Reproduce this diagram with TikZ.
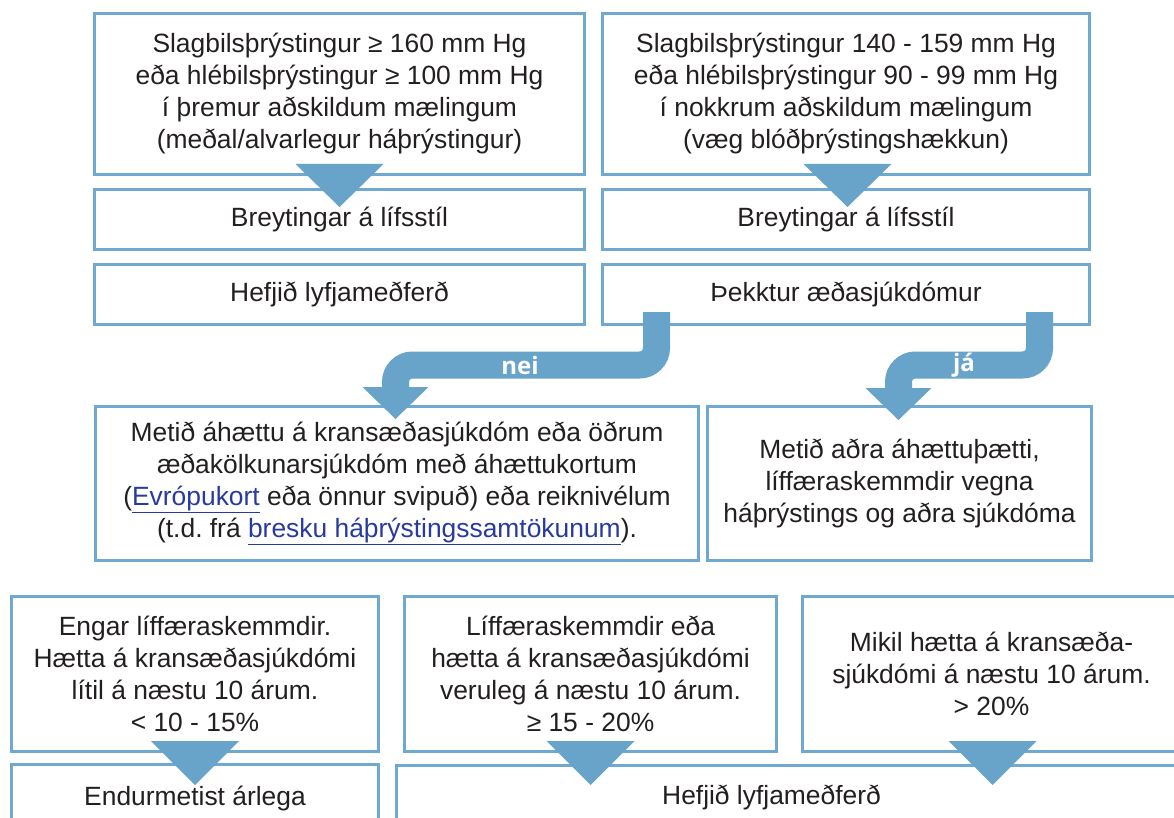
\documentclass[tikz,border=0pt]{standalone}
\usepackage{fontspec}
\setmainfont{Liberation Sans}
\newfontfamily\lblfont{Open Sans}
\usetikzlibrary{calc}
\definecolor{bordercol}{RGB}{111,168,208}
\definecolor{arrowcol}{RGB}{104,164,201}
\definecolor{txtcol}{RGB}{35,31,32}
\definecolor{linkcol}{RGB}{40,58,160}
\newcommand{\lnk}[1]{\textcolor{linkcol}{\underline{#1}}}
\frenchspacing
\begin{document}
\begin{tikzpicture}[x=1pt,y=-1pt,
  box/.style={draw=bordercol, line width=3pt, fill=white, inner sep=0pt,
    align=center, text=txtcol, anchor=north west,
    font=\frenchspacing\fontsize{26.4}{32}\selectfont},
  tri/.style={fill=arrowcol, draw=none},
  bentarrow/.style={draw=arrowcol, line width=27pt, rounded corners=17pt, line cap=butt},
  lbl/.style={text=white, font=\lblfont\bfseries\fontsize{24}{26}\selectfont}]
\useasboundingbox (0,0) rectangle (1174,818);
\fill[white] (0,0) rectangle (1174,818);
\clip (0,0) rectangle (1174,818);

% top row
\node[box, minimum width=490pt, minimum height=161pt] (b1) at (93,12)
  {Slagbilsþrýstingur ≥ 160 mm Hg\\eða hlébilsþrýstingur ≥ 100 mm Hg\\í þremur aðskildum mælingum\\(meðal/alvarlegur háþrýstingur)};
\node[box, minimum width=487pt, minimum height=161pt] (b2) at (601,12)
  {Slagbilsþrýstingur 140 - 159 mm Hg\\eða hlébilsþrýstingur 90 - 99 mm Hg\\í nokkrum aðskildum mælingum\\(væg blóðþrýstingshækkun)};
\node[box, minimum width=490pt, minimum height=60pt] (r1) at (93,188) {Breytingar á lífsstíl};
\node[box, minimum width=487pt, minimum height=60pt] (r2) at (601,188) {Breytingar á lífsstíl};
\node[box, minimum width=490pt, minimum height=60pt] (h1) at (93,263) {Hefjið lyfjameðferð};
\node[box, minimum width=487pt, minimum height=60pt] (tk) at (601,263) {Þekktur æðasjúkdómur};

% middle row
\node[box, minimum width=603pt, minimum height=154pt] (m1) at (94,405)
  {Metið áhættu á kransæðasjúkdóm eða öðrum\\æðakölkunarsjúkdóm með áhættukortum\\(\lnk{Evrópukort} eða önnur svipuð) eða reiknivélum\\(t.d. frá \lnk{bresku háþrýstingssamtökunum}).};
\node[box, minimum width=384pt, minimum height=154pt] (m2) at (706,405)
  {Metið aðra áhættuþætti,\\líffæraskemmdir vegna\\háþrýstings og aðra sjúkdóma};

% bottom row
\node[box, minimum width=367pt, minimum height=155pt] (e1) at (10,595)
  {Engar líffæraskemmdir.\\Hætta á kransæðasjúkdómi\\lítil á næstu 10 árum.\\< 10 - 15\%};
\node[box, minimum width=372pt, minimum height=155pt] (e2) at (403,595)
  {Líffæraskemmdir eða\\hætta á kransæðasjúkdómi\\veruleg á næstu 10 árum.\\≥ 15 - 20\%};
\node[box, minimum width=378pt, minimum height=155pt] (e3) at (801,595)
  {Mikil hætta á kransæða-\\sjúkdómi á næstu 10 árum.\\> 20\%};
\node[box, minimum width=367pt, minimum height=68pt] (f1) at (10,763) {Endurmetist árlega};
\node[box, minimum width=784pt, minimum height=64pt] (f2) at (395,764) {Hefjið lyfjameðferð\hspace*{34pt}};

% down triangles
\foreach \n/\dx in {b1/0,b2/1.5} {
  \fill[tri] ($(\n.south)+(\dx-44,-12)$) -- ($(\n.south)+(\dx+44,-12)$) -- ($(\n.south)+(\dx,31)$) -- cycle;
}
\foreach \n/\dx in {e1/0,e2/0,e3/1} {
  \fill[tri] ($(\n.south)+(\dx-44,-12)$) -- ($(\n.south)+(\dx+44,-12)$) -- ($(\n.south)+(\dx,32)$) -- cycle;
}

% nei arrow
\coordinate (neiA) at ($(tk.south west)+(55.5,-14)$);
\coordinate (neiTip) at ($(m1.north)+(-1.5,14)$);
\coordinate (band) at ($(m1.north)+(0,-40)$);
\draw[bentarrow] (neiA) -- (neiA |- band) -- (neiTip |- band) -- ($(neiTip)+(0,-30)$);
\fill[tri] ($(neiTip)+(-33,-32)$) -- ($(neiTip)+(33,-32)$) -- (neiTip) -- cycle;
\node[lbl] (nei) at (520,365) {nei};

% já arrow
\coordinate (jaA) at ($(tk.south east)+(-51.5,-14)$);
\coordinate (jaTip) at ($(m2.north)+(-1,15)$);
\draw[bentarrow] (jaA) -- (jaA |- band) -- (jaTip |- band) -- ($(jaTip)+(0,-31)$);
\fill[tri] ($(jaTip)+(-33,-32)$) -- ($(jaTip)+(33,-32)$) -- (jaTip) -- cycle;
\node[lbl] (ja) at (964,365) {já};
\end{tikzpicture}
\end{document}
